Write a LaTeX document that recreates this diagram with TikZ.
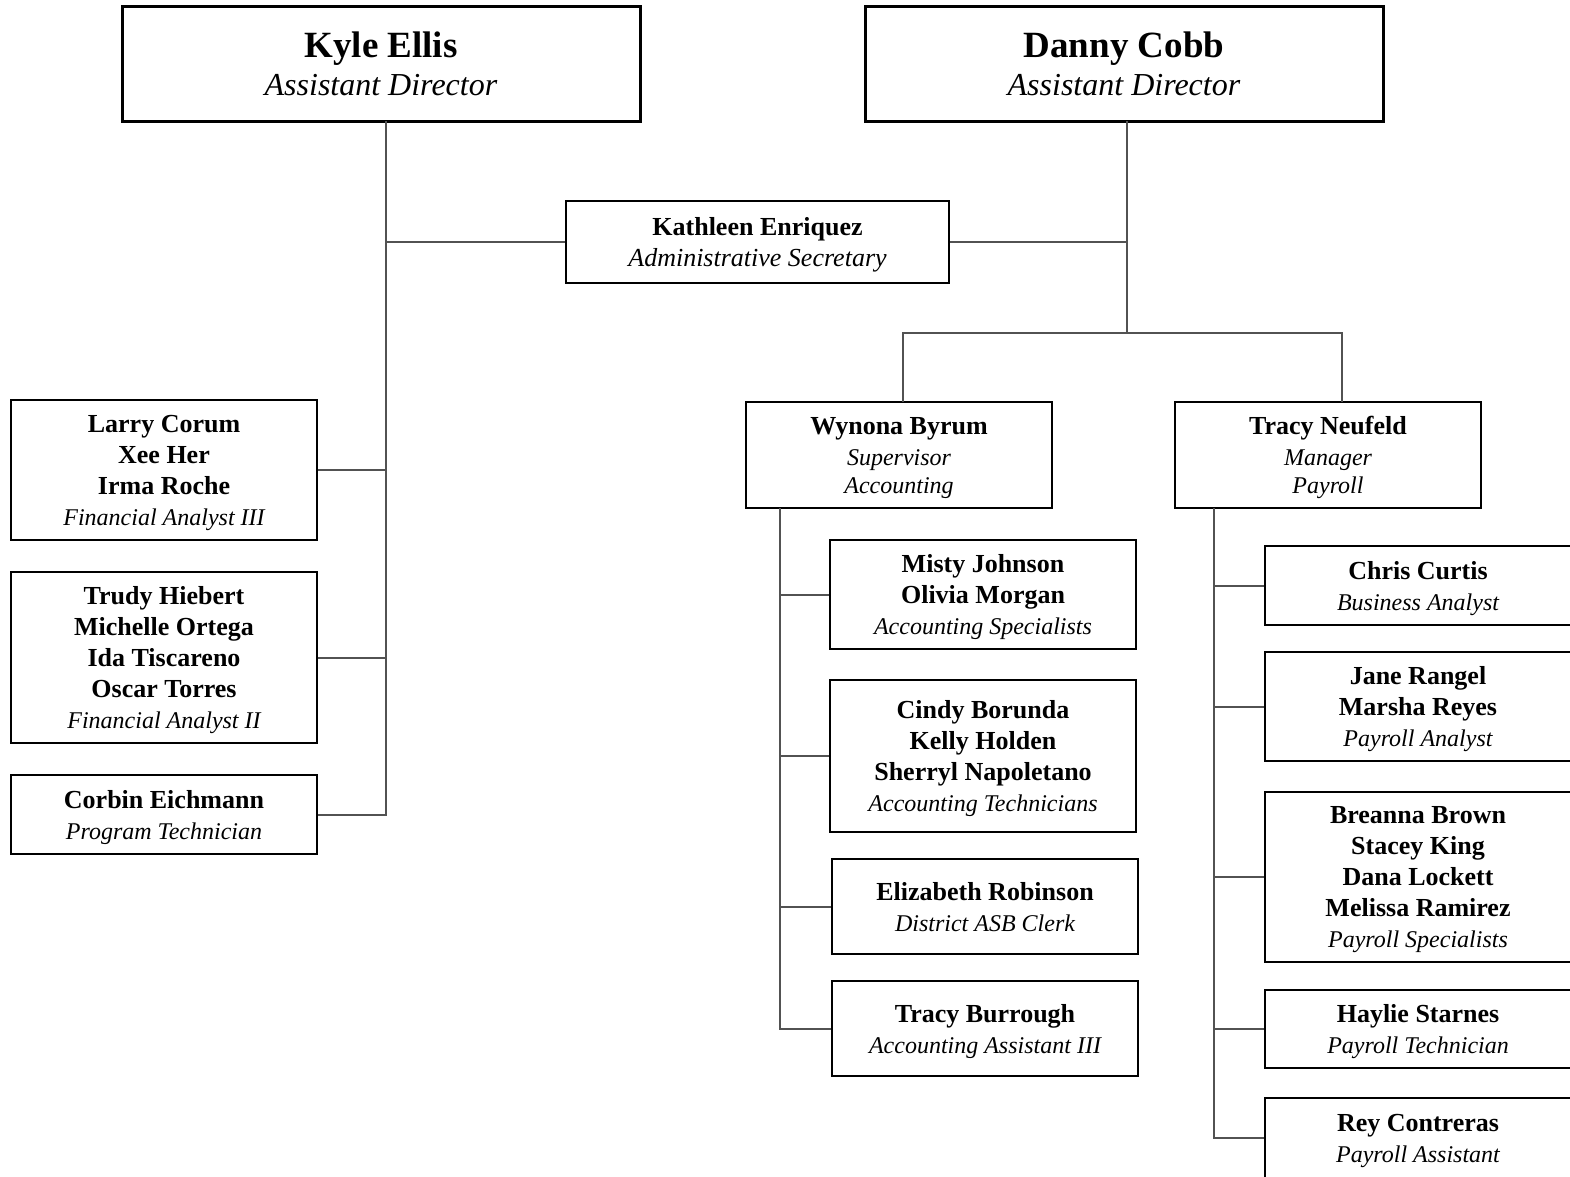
\documentclass[tikz,border=0pt]{standalone}
\usepackage{fontspec}
\setmainfont{Liberation Serif}
\newcommand{\nm}[1]{\textbf{#1}}
\newcommand{\jt}[1]{{\fontsize{24}{31}\selectfont\itshape #1}}
\tikzset{
  chief/.style={draw, line width=3pt, minimum width=518, minimum height=115, align=center, inner sep=0pt, text depth=-4pt, font=\fontsize{32}{38}\selectfont},
  staff/.style={draw, line width=2pt, minimum width=306, align=center, inner sep=0pt, text depth=-10pt, font=\fontsize{26}{31}\selectfont},
  link/.style={draw=black!68, line width=2pt},
}
\begin{document}
\begin{tikzpicture}[x=1pt,y=-1pt]
\path[use as bounding box, fill=white] (0,0) rectangle (1570,1176);
\node[chief] (kyle) at (381,63.5) {{\fontsize{37}{38}\selectfont\nm{Kyle Ellis}}\\\textit{Assistant Director}};
\node[chief] (danny) at (1124,63.5) {{\fontsize{37}{38}\selectfont\nm{Danny Cobb}}\\\textit{Assistant Director}};
\node[staff, minimum width=383, minimum height=82] (kathleen) at (757.5,242) {\nm{Kathleen Enriquez}\\\textit{Administrative Secretary}};
\node[staff, minimum height=140] (larry) at (164,470) {\nm{Larry Corum}\\\nm{Xee Her}\\\nm{Irma Roche}\\\jt{Financial Analyst III}};
\node[staff, minimum height=171] (trudy) at (164,657.5) {\nm{Trudy Hiebert}\\\nm{Michelle Ortega}\\\nm{Ida Tiscareno}\\\nm{Oscar Torres}\\\jt{Financial Analyst II}};
\node[staff, minimum height=79] (corbin) at (164,814.5) {\nm{Corbin Eichmann}\\\jt{Program Technician}};
\node[staff, minimum height=106] (wynona) at (899,455) {\nm{Wynona Byrum}\\\jt{Supervisor}\\[-3pt]\jt{Accounting}};
\node[staff, minimum height=106] (tracyn) at (1328,455) {\nm{Tracy Neufeld}\\\jt{Manager}\\[-3pt]\jt{Payroll}};
\node[staff, minimum height=109] (misty) at (983,594.5) {\nm{Misty Johnson}\\\nm{Olivia Morgan}\\\jt{Accounting Specialists}};
\node[staff, minimum height=152] (cindy) at (983,756) {\nm{Cindy Borunda}\\\nm{Kelly Holden}\\\nm{Sherryl Napoletano}\\\jt{Accounting Technicians}};
\node[staff, minimum height=95] (elizabeth) at (985,906.5) {\nm{Elizabeth Robinson}\\\jt{District ASB Clerk}};
\node[staff, minimum height=95] (tracyb) at (985,1028.5) {\nm{Tracy Burrough}\\\jt{Accounting Assistant III}};
\node[staff, minimum height=79] (chris) at (1418,585.5) {\nm{Chris Curtis}\\\jt{Business Analyst}};
\node[staff, minimum height=109] (jane) at (1418,706.5) {\nm{Jane Rangel}\\\nm{Marsha Reyes}\\\jt{Payroll Analyst}};
\node[staff, minimum height=170] (breanna) at (1418,877) {\nm{Breanna Brown}\\\nm{Stacey King}\\\nm{Dana Lockett}\\\nm{Melissa Ramirez}\\\jt{Payroll Specialists}};
\node[staff, minimum height=78] (haylie) at (1418,1029) {\nm{Haylie Starnes}\\\jt{Payroll Technician}};
\node[staff, minimum height=80] (rey) at (1418,1138) {\nm{Rey Contreras}\\\jt{Payroll Assistant}};
\coordinate (kspine) at (386,121);
\coordinate (dspine) at (1127,121);
\coordinate (fork) at (1127,333);
\coordinate (wtop) at (903,402);
\coordinate (ttop) at (1342,402);
\coordinate (wspine) at (780,508);
\coordinate (tspine) at (1214,508);
\draw[link] (kspine) -- (kspine |- corbin.east) -- (corbin.east);
\draw[link] (kspine |- kathleen.west) -- (kathleen.west);
\draw[link] (kspine |- larry.east) -- (larry.east);
\draw[link] (kspine |- trudy.east) -- (trudy.east);
\draw[link] (dspine) -- (fork);
\draw[link] (kathleen.east) -- (dspine |- kathleen.east);
\draw[link] (wtop) |- (fork) -| (ttop);
\draw[link] (wspine) -- (wspine |- tracyb.west) -- (tracyb.west);
\draw[link] (wspine |- misty.west) -- (misty.west);
\draw[link] (wspine |- cindy.west) -- (cindy.west);
\draw[link] (wspine |- elizabeth.west) -- (elizabeth.west);
\draw[link] (tspine) -- (tspine |- rey.west) -- (rey.west);
\draw[link] (tspine |- chris.west) -- (chris.west);
\draw[link] (tspine |- jane.west) -- (jane.west);
\draw[link] (tspine |- breanna.west) -- (breanna.west);
\draw[link] (tspine |- haylie.west) -- (haylie.west);
\end{tikzpicture}
\end{document}
